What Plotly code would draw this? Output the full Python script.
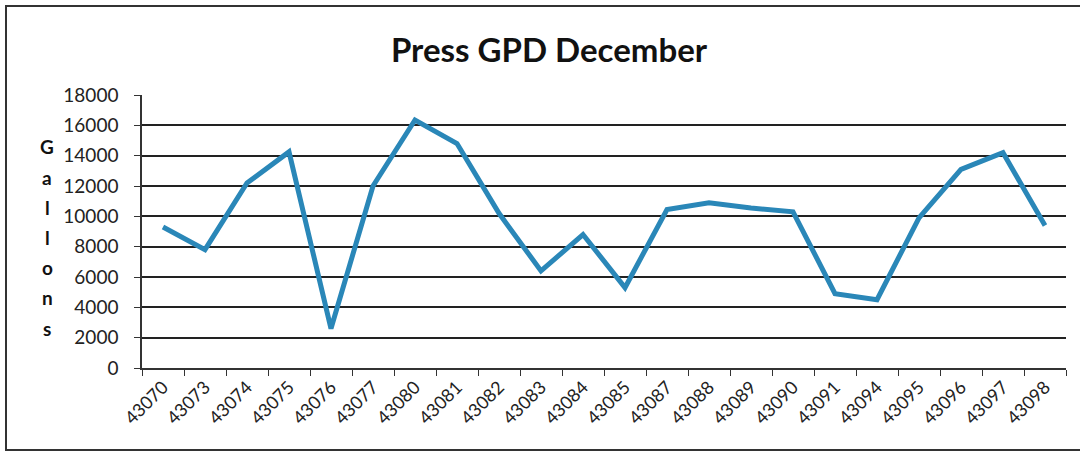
import plotly.graph_objects as go

days = ["43070", "43073", "43074", "43075", "43076", "43077", "43080", "43081",
        "43082", "43083", "43084", "43085", "43087", "43088", "43089", "43090",
        "43091", "43094", "43095", "43096", "43097", "43098"]
gallons = [9300, 7800, 12200, 14250, 2600, 12000, 16350, 14800,
           10200, 6400, 8800, 5300, 10450, 10900, 10550, 10300,
           4900, 4500, 9900, 13100, 14200, 9400]
y_ticks = [0, 2000, 4000, 6000, 8000, 10000, 12000, 14000, 16000, 18000]
title_text = "Press GPD December"
y_title = "Gallons"

L, R, T, B = 142, 14, 95, 86
W, H = 1080, 454
pw, ph = W - L - R, H - T - B

fig = go.Figure()
fig.add_trace(go.Scatter(
    x=days, y=gallons, mode="lines",
    line=dict(color="#2a87b8", width=5),
    showlegend=False, hoverinfo="x+y"))

font_main = "Lato, 'Open Sans', Arial, sans-serif"

def px_x(x):
    return (x - L) / pw

def px_y(y):
    return 1 - (y - T) / ph

shapes = [dict(type="rect", xref="paper", yref="paper",
               x0=px_x(6), x1=px_x(1090), y0=px_y(450), y1=px_y(6),
               line=dict(color="#333333", width=2), layer="below")]

annotations = []
letter_y = [146, 177, 207, 237, 267, 297, 328]
for ch, yy in zip(y_title, letter_y):
    annotations.append(dict(text="<b>%s</b>" % ch, xref="paper", yref="paper",
                            x=px_x(47), y=px_y(yy), showarrow=False,
                            xanchor="center", yanchor="middle",
                            font=dict(family=font_main, size=19, color="#111111")))

fig.update_layout(
    width=W, height=H,
    margin=dict(l=L, r=R, t=T, b=B),
    paper_bgcolor="white", plot_bgcolor="white",
    title=dict(text="<b>%s</b>" % title_text, x=(549) / W, xanchor="center",
               y=1 - 50 / H, yanchor="middle",
               font=dict(family=font_main, size=33, color="#111111")),
    shapes=shapes, annotations=annotations,
    xaxis=dict(type="category", tickangle=-45, tickson="boundaries",
               ticks="outside", ticklen=6, tickcolor="#333333",
               showline=True, linecolor="#333333", linewidth=1.5,
               showgrid=False, range=[-0.5, len(days) - 0.5],
               tickfont=dict(family=font_main, size=18, color="#222222")),
    yaxis=dict(range=[0, 18000], tickvals=y_ticks,
               ticktext=[str(v) for v in y_ticks],
               ticks="outside", ticklen=6, tickcolor="#333333",
               ticklabelstandoff=12,
               showline=True, linecolor="#333333", linewidth=1.5,
               showgrid=True, gridcolor="#222222", gridwidth=1.5,
               zeroline=False,
               tickfont=dict(family=font_main, size=19, color="#222222")),
)

fig.write_html("out.html")
